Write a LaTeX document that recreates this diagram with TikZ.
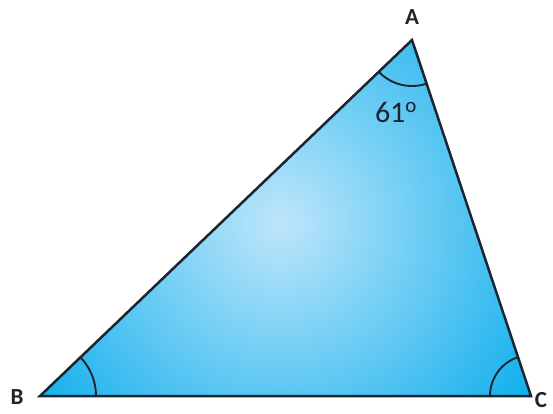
\documentclass[tikz,border=0pt]{standalone}
\usepackage{fontspec}
\setmainfont{Carlito}
\usetikzlibrary{angles}
\definecolor{triblue}{RGB}{0,170,236}
\definecolor{trilight}{RGB}{190,230,250}
\definecolor{edgedark}{RGB}{28,36,46}
\tikzset{
    side/.style={draw=edgedark, line width=2.5pt, line join=miter},
    mark angle/.style={draw=edgedark, line width=1.9pt},
    vertex/.style={font=\bfseries\fontsize{23}{23}\selectfont, text=edgedark, inner sep=0pt}
}

\begin{document}
\begin{tikzpicture}[x=1pt, y=1pt]
    \useasboundingbox (0,0) rectangle (553,413);
    \coordinate (A) at (412,373);
    \coordinate (B) at (40,17);
    \coordinate (C) at (531,17);
    \coordinate (glow) at (280,190);

    % shaded face
    \begin{scope}
        \clip (A) -- (B) -- (C) -- cycle;
        \shade[inner color=trilight, outer color=triblue] (glow) circle (330);
    \end{scope}

    % angle marks
    \pic[mark angle, angle radius=46pt] {angle = B--A--C};
    \pic[mark angle, angle radius=56pt] {angle = C--B--A};
    \pic[mark angle, angle radius=41pt] {angle = A--C--B};

    \draw[side] (A) -- (B) -- (C) -- cycle;

    \node[vertex] (labA) at (412,396) {A};
    \node[vertex] (labB) at (17,16) {B};
    \node[vertex] (labC) at (541,13) {C};
    \node[font=\fontsize{30}{30}\selectfont, text=edgedark, inner sep=0pt] (angA) at (396,301) {61\textsuperscript{o}};
\end{tikzpicture}
\end{document}
